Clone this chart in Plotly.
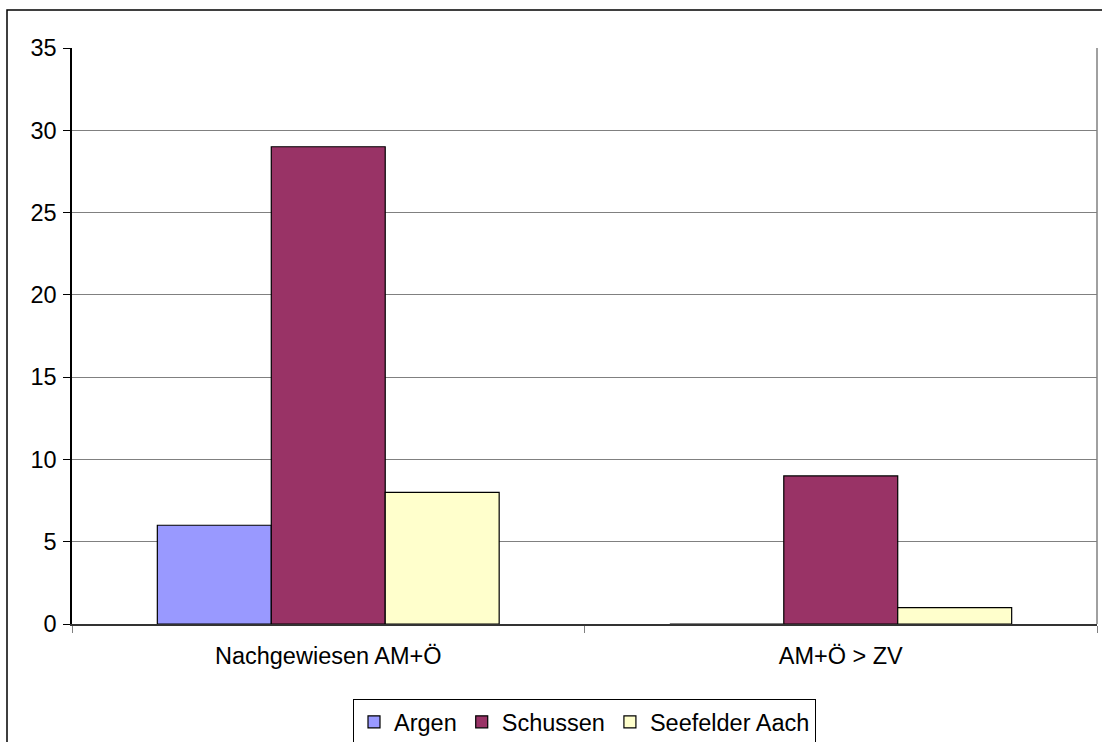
import plotly.graph_objects as go

categories = ["Nachgewiesen AM+Ö", "AM+Ö > ZV"]
argen = [6, 0]
schussen = [29, 9]
seefelder = [8, 1]

series = [
    ("Argen", argen, "#9999FF"),
    ("Schussen", schussen, "#993366"),
    ("Seefelder Aach", seefelder, "#FFFFCC"),
]

fig = go.Figure()
for name, vals, color in series:
    fig.add_trace(go.Bar(
        name=name, x=categories, y=vals,
        marker=dict(color=color, line=dict(color="#000000", width=1.2)),
    ))

W, H = 1102, 742
L, R, T, B = 72, 5, 48, 118
pw, ph = W - L - R, H - T - B

def px_x(x):
    return (x - L) / pw

def px_y(y):
    return (H - B - y) / ph

fig.update_layout(
    width=W, height=H,
    margin=dict(l=L, r=R, t=T, b=B, autoexpand=False),
    paper_bgcolor="white", plot_bgcolor="white",
    barmode="group", bargap=0.333, bargroupgap=0,
    font=dict(family="Liberation Sans, Arial, sans-serif", size=23.5, color="#000000"),
    showlegend=True,
    legend=dict(
        orientation="h", x=0.5, xanchor="center", y=px_y(699), yanchor="top",
        bordercolor="#000000", borderwidth=1, bgcolor="white",
        font=dict(size=23.5), itemwidth=30, tracegroupgap=0,
    ),
    xaxis=dict(
        showline=True, linecolor="#333333", linewidth=1.5,
        ticks="outside", tickson="boundaries", ticklen=7, tickcolor="#808080",
        showgrid=False, ticklabelstandoff=10,
    ),
    yaxis=dict(
        range=[0, 35], dtick=5, tick0=0,
        showline=True, linecolor="#000000", linewidth=1.5,
        ticks="outside", ticklen=7, tickcolor="#000000",
        showgrid=True, gridcolor="#808080", gridwidth=1.2,
        zeroline=False, ticklabelstandoff=2,
    ),
    shapes=[
        # right edge of the plot area
        dict(type="line", xref="paper", yref="paper", x0=1, x1=1, y0=0, y1=1,
             line=dict(color="#808080", width=1.5)),
        # outer chart frame
        dict(type="rect", xref="paper", yref="paper",
             x0=px_x(7), x1=px_x(1110), y0=px_y(750), y1=px_y(10),
             line=dict(color="#000000", width=1.5), layer="above"),
    ],
)

fig.write_html("out.html")
